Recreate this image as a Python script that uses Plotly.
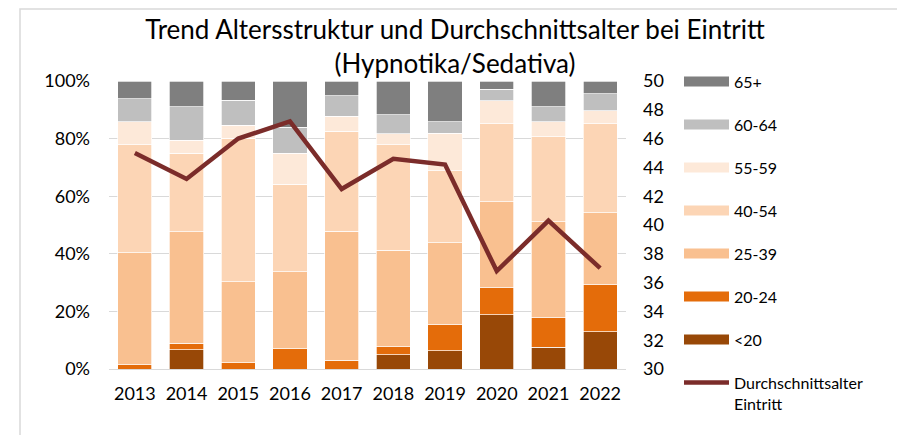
import plotly.graph_objects as go

years = ["2013", "2014", "2015", "2016", "2017", "2018", "2019", "2020", "2021", "2022"]

# Anteile je Altersgruppe in % (gestapelt, von unten nach oben)
lt20 = [0.0, 6.7, 0.0, 0.0, 0.0, 5.0, 6.4, 18.9, 7.5, 13.0]
a20_24 = [1.5, 2.2, 2.1, 7.1, 3.1, 2.8, 9.0, 9.3, 10.3, 16.2]
a25_39 = [38.8, 38.7, 28.2, 26.7, 44.8, 33.5, 28.5, 29.8, 33.4, 25.1]
a40_54 = [37.6, 27.4, 49.9, 30.4, 34.7, 36.5, 25.0, 27.2, 29.4, 30.8]
a55_59 = [8.0, 4.5, 4.5, 10.8, 5.2, 3.8, 12.9, 7.9, 5.2, 4.5]
a60_64 = [7.9, 11.5, 8.7, 8.9, 7.0, 6.6, 4.0, 4.1, 5.2, 6.0]
a65p = [6.2, 9.0, 6.6, 16.1, 5.2, 11.8, 14.2, 2.8, 9.0, 4.4]

# Durchschnittsalter bei Eintritt (rechte Achse)
avg_age = [45.0, 43.2, 46.0, 47.2, 42.5, 44.6, 44.2, 36.8, 40.3, 37.0]

groups = [
    ("<20", lt20, "#984807"),
    ("20-24", a20_24, "#e46c0a"),
    ("25-39", a25_39, "#f9c090"),
    ("40-54", a40_54, "#fcd5b5"),
    ("55-59", a55_59, "#fde9d9"),
    ("60-64", a60_64, "#bfbfbf"),
    ("65+", a65p, "#7f7f7f"),
]

font = "Lato"
line_color = "#7b2c2a"

fig = go.Figure()

for name, vals, col in groups:
    fig.add_trace(go.Bar(
        x=years, y=vals, name=name, showlegend=False,
        marker=dict(color=col, line=dict(color="white", width=0.7)),
    ))

# legend entries (wide swatches like the original)
for i, (name, vals, col) in enumerate(reversed(groups)):
    fig.add_trace(go.Scatter(
        x=[None], y=[None], mode="lines", name=name,
        line=dict(color=col, width=10),
        legendgroup=name, legendrank=i + 1,
    ))

fig.add_trace(go.Scatter(
    x=years, y=avg_age, mode="lines", yaxis="y2",
    name="Durchschnittsalter<br>Eintritt",
    line=dict(color=line_color, width=4.5),
    legendgroup="avg", legendrank=20,
))

# the page body adds an 8px offset, so positions below are page px minus 8
off = 8
W, H = 905, 435
L, T = 109 - off, 81 - off
pw, ph = 517, 288
R, B = W - L - pw, H - T - ph

fig.add_shape(
    type="rect", xref="paper", yref="paper",
    x0=(20 - off - L) / pw, x1=(900 - off - L) / pw,
    y0=(T + ph - 445) / ph, y1=(T + ph - (8 - off) - 1) / ph,
    line=dict(color="#d9d9d9", width=1.5), fillcolor="rgba(0,0,0,0)",
    layer="below",
)

fig.update_layout(
    width=W, height=H,
    margin=dict(l=L, r=R, t=T, b=B, autoexpand=False),
    paper_bgcolor="white", plot_bgcolor="white",
    barmode="stack", bargap=0.34,
    font=dict(family=font, color="#000000", size=18),
    title=dict(
        text="Trend Altersstruktur und Durchschnittsalter bei Eintritt<br>(Hypnotika/Sedativa)",
        x=(455 - off) / W, xanchor="center", xref="container",
        y=1 - 31 / H, yanchor="top", yref="container",
        font=dict(family=font, size=26, color="#000000"),
    ),
    xaxis=dict(
        showgrid=False, showline=False, ticks="", ticklabelstandoff=12,
        tickfont=dict(size=18),
    ),
    yaxis=dict(
        range=[0, 100], dtick=20, ticksuffix="%",
        showgrid=True, gridcolor="#d9d9d9", gridwidth=1.3,
        zeroline=True, zerolinecolor="#d9d9d9", zerolinewidth=1.3,
        showline=False, ticks="", ticklabelstandoff=18,
        tickfont=dict(size=18),
    ),
    yaxis2=dict(
        range=[30, 50], dtick=2, overlaying="y", side="right",
        showgrid=False, zeroline=False, showline=False, ticks="",
        ticklabelstandoff=16, tickfont=dict(size=18),
    ),
    legend=dict(
        x=(679 - off - L) / pw, xanchor="left", y=1.06 - 1 / ph, yanchor="top",
        traceorder="grouped", tracegroupgap=19.2, valign="top",
        font=dict(family=font, size=16, color="#000000"),
        itemwidth=45, bgcolor="rgba(0,0,0,0)", maxheight=1,
    ),
)

fig.write_html("out.html")
